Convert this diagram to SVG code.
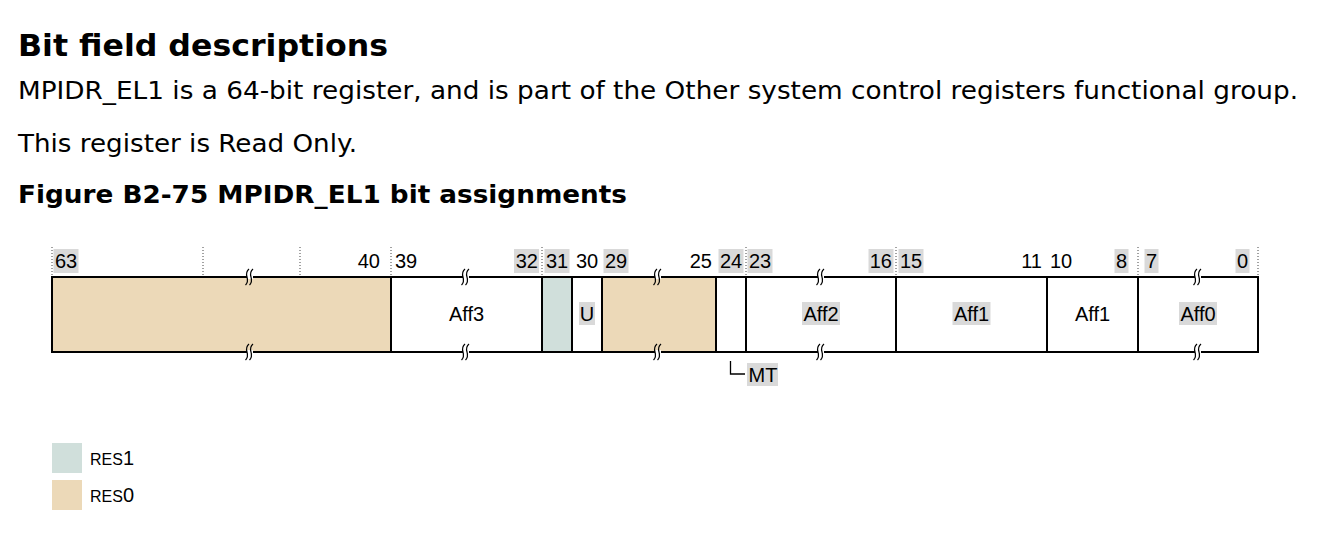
<svg xmlns="http://www.w3.org/2000/svg" xmlns:xlink="http://www.w3.org/1999/xlink" width="1334" height="538" viewBox="0 0 1334 538">
<style>
.h{font-family:"DejaVu Sans",Verdana,sans-serif;font-weight:bold;fill:#000}
.p{font-family:"DejaVu Sans",Verdana,sans-serif;fill:#000}
.t{font-family:"Liberation Sans",Arial,sans-serif;font-size:20px;fill:#000}
.hl{fill:#d9d9d9}
.dot{stroke:#444;stroke-width:1;stroke-dasharray:1,2}
.div{stroke:#000;stroke-width:2}
.res0{fill:#ecd9b8}
.res1{fill:#d0dfdb}
</style>
<defs>
<g id="brk">
<rect x="-3" y="-2" width="6" height="4" fill="#fff"/>
<path d="M-1,-8 Q-4.5,-5 -3,0 Q-1.5,5 -4.5,8 M3,-8 Q-0.5,-5 1,0 Q2.5,5 -0.5,8" fill="none" stroke="#000" stroke-width="1.2"/>
</g>
</defs>
<rect width="1334" height="538" fill="#fff"/>
<g id="header">
<text class="h" x="18" y="56" font-size="31" textLength="370" lengthAdjust="spacingAndGlyphs">Bit field descriptions</text>
<text class="p" x="18" y="99" font-size="25" textLength="1280" lengthAdjust="spacingAndGlyphs">MPIDR_EL1 is a 64-bit register, and is part of the Other system control registers functional group.</text>
<text class="p" x="18" y="152" font-size="25" textLength="339" lengthAdjust="spacingAndGlyphs">This register is Read Only.</text>
<text class="h" x="18" y="203" font-size="25" textLength="609" lengthAdjust="spacingAndGlyphs">Figure B2-75 MPIDR_EL1 bit assignments</text>
</g>
<g id="dotted">
<line class="dot" x1="52" y1="247" x2="52" y2="276"/>
<line class="dot" x1="203" y1="247" x2="203" y2="276"/>
<line class="dot" x1="300" y1="247" x2="300" y2="276"/>
<line class="dot" x1="391" y1="247" x2="391" y2="276"/>
<line class="dot" x1="542" y1="247" x2="542" y2="276"/>
<line class="dot" x1="746" y1="247" x2="746" y2="276"/>
<line class="dot" x1="896" y1="247" x2="896" y2="276"/>
<line class="dot" x1="1138" y1="247" x2="1138" y2="276"/>
<line class="dot" x1="1258" y1="247" x2="1258" y2="276"/>
</g>
<g id="register">
<rect class="res0" x="52" y="277" width="339" height="75"/>
<rect class="res1" x="542" y="277" width="30" height="75"/>
<rect class="res0" x="602" y="277" width="114" height="75"/>
<rect x="52" y="277" width="1206" height="75" fill="none" stroke="#000" stroke-width="2"/>
<line class="div" x1="391" y1="277" x2="391" y2="352"/>
<line class="div" x1="542" y1="277" x2="542" y2="352"/>
<line class="div" x1="572" y1="277" x2="572" y2="352"/>
<line class="div" x1="602" y1="277" x2="602" y2="352"/>
<line class="div" x1="716" y1="277" x2="716" y2="352"/>
<line class="div" x1="746" y1="277" x2="746" y2="352"/>
<line class="div" x1="896" y1="277" x2="896" y2="352"/>
<line class="div" x1="1047" y1="277" x2="1047" y2="352"/>
<line class="div" x1="1138" y1="277" x2="1138" y2="352"/>
</g>
<g id="breaks">
<use xlink:href="#brk" x="250" y="277"/><use xlink:href="#brk" x="250" y="352"/>
<use xlink:href="#brk" x="466" y="277"/><use xlink:href="#brk" x="466" y="352"/>
<use xlink:href="#brk" x="658" y="277"/><use xlink:href="#brk" x="658" y="352"/>
<use xlink:href="#brk" x="821" y="277"/><use xlink:href="#brk" x="821" y="352"/>
<use xlink:href="#brk" x="1198" y="277"/><use xlink:href="#brk" x="1198" y="352"/>
</g>
<g id="bit-labels">
<rect class="hl" x="53.5" y="249" width="25" height="24"/>
<rect class="hl" x="514" y="249" width="25" height="24"/>
<rect class="hl" x="544.5" y="249" width="25" height="24"/>
<rect class="hl" x="603.5" y="249" width="25" height="24"/>
<rect class="hl" x="718.5" y="249" width="25" height="24"/>
<rect class="hl" x="747.5" y="249" width="25" height="24"/>
<rect class="hl" x="868.5" y="249" width="25" height="24"/>
<rect class="hl" x="898.5" y="249" width="25" height="24"/>
<rect class="hl" x="1114.5" y="249" width="14" height="24"/>
<rect class="hl" x="1144.5" y="249" width="14" height="24"/>
<rect class="hl" x="1235.5" y="249" width="14" height="24"/>
<text class="t" x="55" y="268">63</text>
<text class="t" x="380" y="268" text-anchor="end">40</text>
<text class="t" x="395" y="268">39</text>
<text class="t" x="538" y="268" text-anchor="end">32</text>
<text class="t" x="557" y="268" text-anchor="middle">31</text>
<text class="t" x="587" y="268" text-anchor="middle">30</text>
<text class="t" x="605" y="268">29</text>
<text class="t" x="712" y="268" text-anchor="end">25</text>
<text class="t" x="731" y="268" text-anchor="middle">24</text>
<text class="t" x="749" y="268">23</text>
<text class="t" x="892" y="268" text-anchor="end">16</text>
<text class="t" x="900" y="268">15</text>
<text class="t" x="1042" y="268" text-anchor="end">11</text>
<text class="t" x="1050" y="268">10</text>
<text class="t" x="1127" y="268" text-anchor="end">8</text>
<text class="t" x="1146" y="268">7</text>
<text class="t" x="1248" y="268" text-anchor="end">0</text>
</g>
<g id="field-aff3"><text class="t" x="466.5" y="321" text-anchor="middle">Aff3</text></g>
<g id="field-u"><rect class="hl" x="579" y="302" width="16" height="23"/><text class="t" x="587" y="321" text-anchor="middle">U</text></g>
<g id="field-aff2"><rect class="hl" x="802" y="302" width="38" height="23"/><text class="t" x="821" y="321" text-anchor="middle">Aff2</text></g>
<g id="field-aff1a"><rect class="hl" x="952.5" y="302" width="38" height="23"/><text class="t" x="971.5" y="321" text-anchor="middle">Aff1</text></g>
<g id="field-aff1b"><text class="t" x="1092.5" y="321" text-anchor="middle">Aff1</text></g>
<g id="field-aff0"><rect class="hl" x="1179" y="302" width="38" height="23"/><text class="t" x="1198" y="321" text-anchor="middle">Aff0</text></g>
<g id="connectors">
<path d="M730.5,361 V374 H745" fill="none" stroke="#000" stroke-width="1.3"/>
</g>
<g id="label-mt"><rect class="hl" x="747" y="363" width="31" height="23"/><text class="t" x="748.5" y="382">MT</text></g>
<g id="legend">
<rect class="res1" x="52" y="443" width="30" height="30"/>
<rect class="res0" x="52" y="480" width="30" height="30"/>
<text class="t" x="90" y="465"><tspan font-size="16">RES</tspan>1</text>
<text class="t" x="90" y="502"><tspan font-size="16">RES</tspan>0</text>
</g>
</svg>
